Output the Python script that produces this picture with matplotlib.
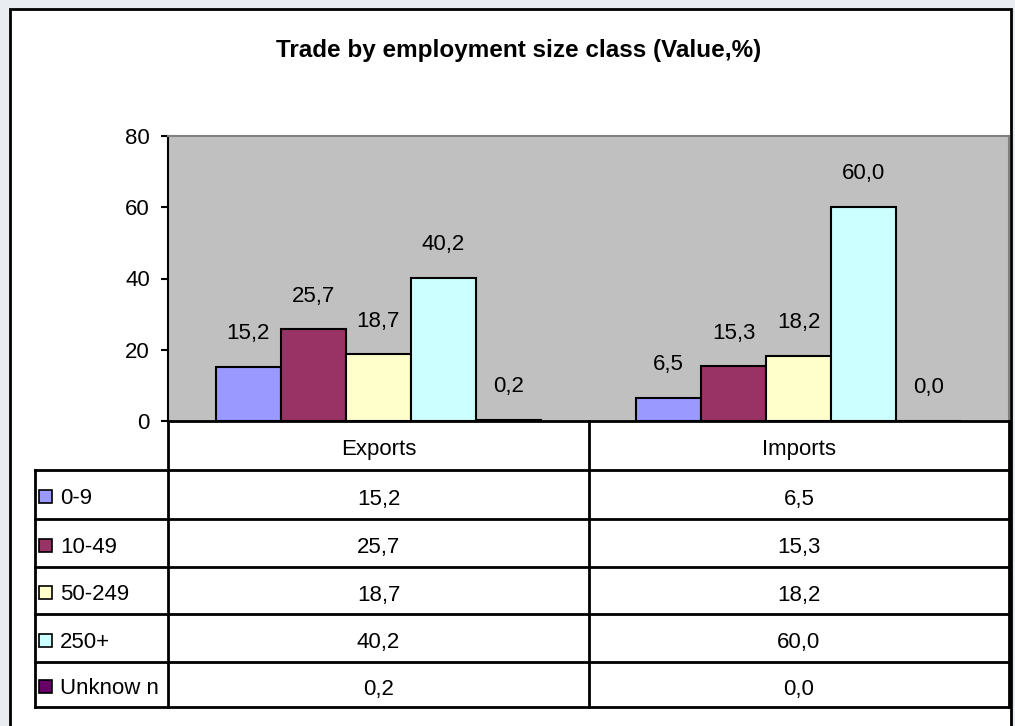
import numpy as np
import matplotlib.pyplot as plt
from matplotlib.patches import Rectangle
from matplotlib.lines import Line2D

plt.rcParams['font.family'] = ['Liberation Sans', 'DejaVu Sans']

# data
flows = ['Exports', 'Imports']
size_classes = ['0-9', '10-49', '50-249', '250+', 'Unknow n']
exports = [15.2, 25.7, 18.7, 40.2, 0.2]
imports = [6.5, 15.3, 18.2, 60.0, 0.0]
colors = ['#9999ff', '#993366', '#ffffcc', '#ccffff', '#660066']

W, H = 1015, 726
def fx(x): return x / W
def fy(y): return 1 - y / H

def fmt(v):
    return ('%.1f' % v).replace('.', ',')

FS = 16

fig = plt.figure(figsize=(W / 100, H / 100), dpi=100, facecolor='#e9edf2')

# white chart frame (behind everything)
fig.add_artist(Rectangle((fx(10), fy(760)), (1011 - 10) / W, (760 - 9) / H,
                         transform=fig.transFigure, facecolor='white',
                         edgecolor='black', lw=2, zorder=-10))

fig.text(fx(519), fy(50), 'Trade by employment size class (Value,%)',
         ha='center', va='center', fontsize=17.5, fontweight='bold')

# plot area
left, right, top, bottom = 168, 1009, 136, 421
ax = fig.add_axes([fx(left), fy(bottom), (right - left) / W, (bottom - top) / H])
ax.set_facecolor('#c0c0c0')
ax.set_xlim(-0.5, 1.5)
ax.set_ylim(0, 80)

values = np.array([exports, imports]).T   # rows = size class
w = 0.1546
x = np.arange(len(flows))
for i, cls in enumerate(size_classes):
    xs = x + (i - 2) * w
    ax.bar(xs, values[i], width=w, color=colors[i], edgecolor='black', lw=1.5)
    for xi, v in zip(xs, values[i]):
        ax.annotate(fmt(v), (xi, v), xytext=(0, 24), textcoords='offset points',
                    ha='center', va='center', fontsize=FS)

ax.set_yticks([0, 20, 40, 60, 80])
ax.tick_params(axis='y', direction='out', length=5, width=1.5, labelsize=FS, pad=8)
ax.set_xticks([])
for s in ['top', 'right']:
    ax.spines[s].set_color('#808080')
    ax.spines[s].set_linewidth(1.5)
ax.spines['left'].set_linewidth(1.5)
ax.spines['bottom'].set_linewidth(2)

# data table under the chart
rows = [470, 519, 567, 614, 662, 707]
mid = 589
col_cx = [(left + mid) / 2, (mid + right) / 2]

def hline(y, x0, x1):
    fig.add_artist(Line2D([fx(x0), fx(x1)], [fy(y), fy(y)], color='black', lw=2,
                          transform=fig.transFigure))

def vline(x0, y0, y1):
    fig.add_artist(Line2D([fx(x0), fx(x0)], [fy(y0), fy(y1)], color='black', lw=2,
                          transform=fig.transFigure))

for y in rows:
    hline(y, 35, right)
vline(left, bottom, rows[-1])
vline(mid, bottom, rows[-1])
vline(right, bottom, rows[-1])
vline(35, rows[0], rows[-1])

for cx, name in zip(col_cx, flows):
    fig.text(fx(cx), fy((bottom + rows[0]) / 2 + 1), name, ha='center',
             va='center_baseline', fontsize=FS)

for i, cls in enumerate(size_classes):
    cy = (rows[i] + rows[i + 1]) / 2
    fig.add_artist(Rectangle((fx(39), fy(cy + 8.5)), 13 / W, 13 / H,
                             transform=fig.transFigure, facecolor=colors[i],
                             edgecolor='black', lw=1.2))
    fig.text(fx(60), fy(cy + 2), cls, ha='left', va='center_baseline', fontsize=FS)
    for cx, v in zip(col_cx, values[i]):
        fig.text(fx(cx), fy(cy + 2), fmt(v), ha='center', va='center_baseline',
                 fontsize=FS)

fig.savefig('out.png', dpi=100, facecolor=fig.get_facecolor())
